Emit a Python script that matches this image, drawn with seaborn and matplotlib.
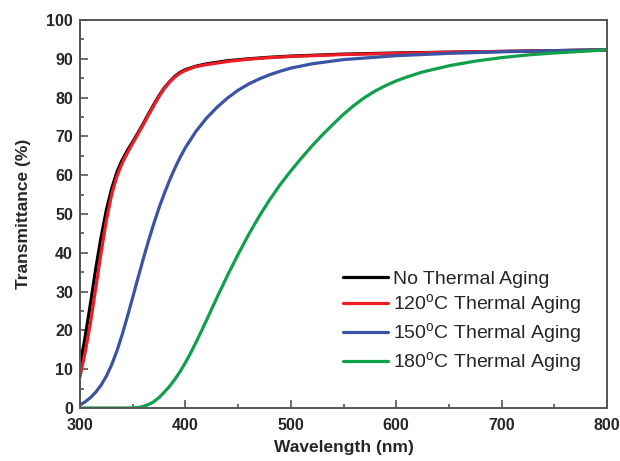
import matplotlib
matplotlib.use("Agg")
import matplotlib.pyplot as plt
from matplotlib.ticker import MultipleLocator
import seaborn as sns
import pandas as pd

# --- data ---
wl_none = [300, 305, 310, 315, 320, 325, 330, 335, 340, 345, 350, 355, 360, 365, 370, 375, 380, 385, 390, 395, 400,
           410, 420, 440, 460, 480, 500, 550, 600, 650, 700, 750, 800]
t_none = [10.8, 18.5, 27, 36, 44, 51, 56.5, 60.8, 63.9, 66.4, 68.6, 70.9, 73.3, 75.8, 78.2, 80.5, 82.5, 84.1, 85.5, 86.5, 87.2,
          88.1, 88.7, 89.5, 90.0, 90.4, 90.7, 91.2, 91.5, 91.7, 91.9, 92.1, 92.3]

wl_120 = [300, 305, 310, 315, 320, 325, 330, 335, 340, 345, 350, 355, 360, 365, 370, 375, 380, 385, 390, 395, 400,
          410, 420, 440, 460, 480, 500, 550, 600, 650, 700, 750, 800]
t_120 = [8, 14.5, 22, 31, 40, 48.3, 55, 59.7, 63.1, 65.8, 68.2, 70.6, 73, 75.5, 77.9, 80.3, 82.3, 84, 85.3, 86.3, 87,
         88, 88.5, 89.3, 89.9, 90.3, 90.6, 91.1, 91.4, 91.7, 91.9, 92.1, 92.3]

wl_150 = [300, 305, 310, 315, 320, 325, 330, 335, 340, 345, 350, 355, 360, 365, 370, 375, 380, 385, 390, 395, 400,
          410, 420, 430, 440, 450, 460, 470, 480, 490, 500, 520, 550, 600, 650, 700, 750, 800]
t_150 = [0.8, 1.6, 2.7, 4.1, 5.9, 8.2, 11.1, 14.7, 18.9, 23.6, 28.5, 33.5, 38.4, 43.1, 47.5, 51.6, 55.3, 58.7, 61.8,
         64.6, 67.1, 71.3, 74.7, 77.5, 79.9, 81.9, 83.5, 84.8, 85.9, 86.8, 87.6, 88.7, 89.8, 90.8, 91.4, 91.8, 92.1, 92.3]

wl_180 = [300, 320, 340, 350, 355, 360, 365, 370, 375, 380, 385, 390, 395, 400, 405, 410, 415, 420, 430, 440, 450,
          460, 470, 480, 490, 500, 510, 520, 530, 540, 550, 560, 570, 580, 590, 600, 610, 625, 650, 675, 700, 725,
          750, 775, 800]
t_180 = [0, 0, 0, 0, 0.1, 0.4, 0.9, 1.6, 2.7, 4.1, 5.6, 7.4, 9.4, 11.7, 14.2, 16.9, 19.7, 22.6, 28.5, 34.2, 39.6,
         44.7, 49.4, 53.7, 57.6, 61.1, 64.4, 67.5, 70.4, 73.1, 75.7, 78, 80, 81.7, 83.1, 84.3, 85.3, 86.6, 88.2, 89.4,
         90.3, 91, 91.5, 91.9, 92.3]

labels = ["No Thermal Aging", "120$^{\\rm o}$C Thermal Aging",
          "150$^{\\rm o}$C Thermal Aging", "180$^{\\rm o}$C Thermal Aging"]
colors = ["#000000", "#ee1c25", "#3b53a4", "#10a04b"]

frames = []
for lab, xs, ys in zip(labels, [wl_none, wl_120, wl_150, wl_180], [t_none, t_120, t_150, t_180]):
    frames.append(pd.DataFrame({"Wavelength": xs, "T": ys, "series": lab}))
df = pd.concat(frames, ignore_index=True)

sns.set_style("white")
plt.rcParams["font.family"] = ["Liberation Sans", "DejaVu Sans"]
plt.rcParams["mathtext.fontset"] = "custom"
plt.rcParams["mathtext.rm"] = "Liberation Sans"

fig = plt.figure(figsize=(6.2, 4.61), dpi=100)
ax = fig.add_axes([80 / 620, 1 - 408 / 461, 527 / 620, 388 / 461])

sns.lineplot(data=df, x="Wavelength", y="T", hue="series", hue_order=labels,
             palette=colors, linewidth=2.3, sort=False, estimator=None, ax=ax, legend=True)

ax.set_xlim(300, 800)
ax.set_ylim(0, 100)
ax.xaxis.set_major_locator(MultipleLocator(100))
ax.xaxis.set_minor_locator(MultipleLocator(50))
ax.yaxis.set_major_locator(MultipleLocator(10))
ax.yaxis.set_minor_locator(MultipleLocator(5))
ax.tick_params(which="both", direction="in", bottom=True, left=True, top=False, right=False,
               color="#555555", width=1.2)
ax.tick_params(which="major", length=6, labelsize=11.5)
ax.tick_params(axis="x", which="major", pad=7)
ax.tick_params(axis="y", which="major", pad=5)
ax.tick_params(which="minor", length=3)
for lab in ax.get_xticklabels() + ax.get_yticklabels():
    lab.set_fontweight("bold")
for sp in ax.spines.values():
    sp.set_color("#555555")
    sp.set_linewidth(1.4)

ax.set_xlabel("Wavelength (nm)", fontsize=12.5, fontweight="bold", labelpad=5)
ax.set_ylabel("Transmittance (%)", fontsize=12.5, fontweight="bold", labelpad=11)

handles, _ = ax.get_legend_handles_labels()
leg = ax.legend(handles, labels, loc="upper left", bbox_to_anchor=(0.499, 0.355), frameon=False,
                fontsize=14, handlelength=2.3, handletextpad=0.25, labelspacing=0.22,
                borderpad=0, borderaxespad=0)

fig.savefig("out.png", dpi=100)
